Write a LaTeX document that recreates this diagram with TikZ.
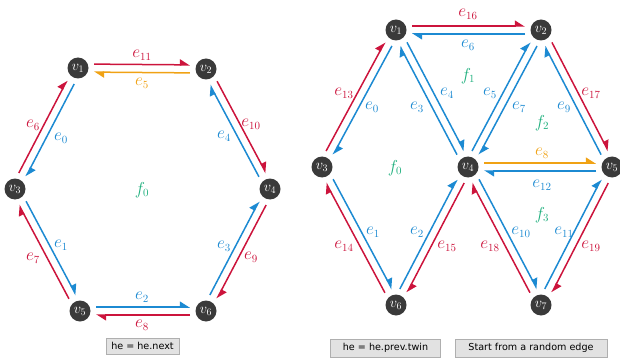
\documentclass[tikz,border=0pt]{standalone}
\usepackage{fontspec}
\newfontfamily\btnfont{DejaVu Sans}
\usetikzlibrary{arrows.meta,calc}
\definecolor{hred}{RGB}{204,20,60}
\definecolor{hblue}{RGB}{28,138,210}
\definecolor{horange}{RGB}{240,162,20}
\definecolor{hgreen}{RGB}{30,175,125}
\definecolor{vgray}{RGB}{58,58,58}
\definecolor{btnfill}{RGB}{226,226,226}
\definecolor{btnborder}{RGB}{175,175,175}
\tikzset{
 vert/.style={circle,fill=vgray,text=white,minimum size=21pt,inner sep=0pt,font=\fontsize{14}{14}\selectfont},
 hedge/.style={line width=1.5pt,-{Triangle[left,length=9pt,width=11pt]}},
 lab/.style={font=\fontsize{16}{16}\selectfont,inner sep=0pt},
 flab/.style={font=\fontsize{16}{16}\selectfont,inner sep=0pt,text=hgreen},
 btn/.style={draw=btnborder,fill=btnfill,font=\btnfont\fontsize{9.6}{10}\selectfont,inner sep=0pt,minimum height=16pt}
}
\newcommand\halfedge[3][]{\draw[hedge,#1] ($(#2)!16pt!(#3)!4pt!90:(#3)$) -- ($(#3)!16pt!(#2)!4pt!-90:(#2)$);}
\begin{document}
\begin{tikzpicture}[x=1pt,y=-1pt]
\useasboundingbox (0,0) rectangle (620,358);
\clip (0,0) rectangle (620,358);
% ---------- left graph ----------
\node[vert] (a1) at (78,68) {$v_1$};
\node[vert] (a2) at (206,69) {$v_2$};
\node[vert] (a3) at (15,189) {$v_3$};
\node[vert] (a4) at (270,189) {$v_4$};
\node[vert] (a5) at (80,311) {$v_5$};
\node[vert] (a6) at (206,311) {$v_6$};
\halfedge[hred]{a1}{a2}
\halfedge[horange]{a2}{a1}
\halfedge[hred]{a3}{a1}
\halfedge[hblue]{a1}{a3}
\halfedge[hred]{a2}{a4}
\halfedge[hblue]{a4}{a2}
\halfedge[hblue]{a3}{a5}
\halfedge[hred]{a5}{a3}
\halfedge[hblue]{a5}{a6}
\halfedge[hred]{a6}{a5}
\halfedge[hblue]{a6}{a4}
\halfedge[hred]{a4}{a6}
\node[lab,text=hred] (la11) at (142,55) {$e_{11}$};
\node[lab,text=horange] (la5) at (142,83) {$e_{5}$};
\node[lab,text=hred] (la6) at (33,125) {$e_{6}$};
\node[lab,text=hblue] (la0) at (61,138) {$e_{0}$};
\node[lab,text=hred] (la10) at (251,124) {$e_{10}$};
\node[lab,text=hblue] (la4) at (224,136) {$e_{4}$};
\node[lab,text=hblue] (la1) at (61,245) {$e_{1}$};
\node[lab,text=hred] (la7) at (33,258) {$e_{7}$};
\node[lab,text=hblue] (la3) at (224,246) {$e_{3}$};
\node[lab,text=hred] (la9) at (251,257) {$e_{9}$};
\node[lab,text=hblue] (la2) at (142,297) {$e_{2}$};
\node[lab,text=hred] (la8) at (142,325) {$e_{8}$};
\node[flab] (lf0) at (142,190) {$f_0$};
\node[btn,minimum width=73pt] (b1) at (142.5,346) {he = he.next};
% ---------- right graph ----------
\node[vert] (b1v) at (396,30) {$v_1$};
\node[vert] (b2v) at (541,30) {$v_2$};
\node[vert] (b3v) at (322,167) {$v_3$};
\node[vert] (b4v) at (468,167) {$v_4$};
\node[vert] (b5v) at (612,167) {$v_5$};
\node[vert] (b6v) at (396,305) {$v_6$};
\node[vert] (b7v) at (541,305) {$v_7$};
\halfedge[hred]{b1v}{b2v}
\halfedge[hblue]{b2v}{b1v}
\halfedge[hred]{b3v}{b1v}
\halfedge[hblue]{b1v}{b3v}
\halfedge[hblue]{b4v}{b1v}
\halfedge[hblue]{b1v}{b4v}
\halfedge[hblue]{b4v}{b2v}
\halfedge[hblue]{b2v}{b4v}
\halfedge[hblue]{b5v}{b2v}
\halfedge[hred]{b2v}{b5v}
\halfedge[horange]{b4v}{b5v}
\halfedge[hblue]{b5v}{b4v}
\halfedge[hblue]{b3v}{b6v}
\halfedge[hred]{b6v}{b3v}
\halfedge[hblue]{b6v}{b4v}
\halfedge[hred]{b4v}{b6v}
\halfedge[hred]{b7v}{b4v}
\halfedge[hblue]{b4v}{b7v}
\halfedge[hblue]{b7v}{b5v}
\halfedge[hred]{b5v}{b7v}
\node[lab,text=hred] (lb16) at (468,14) {$e_{16}$};
\node[lab,text=hblue] (lb6) at (468,45) {$e_{6}$};
\node[lab,text=hred] (lb13) at (344,93) {$e_{13}$};
\node[lab,text=hblue] (lb0) at (372,107) {$e_{0}$};
\node[lab,text=hblue] (lb3) at (417,107) {$e_{3}$};
\node[lab,text=hblue] (lb4) at (447,93) {$e_{4}$};
\node[lab,text=hblue] (lb5) at (490,93) {$e_{5}$};
\node[lab,text=hblue] (lb7) at (519,107) {$e_{7}$};
\node[lab,text=hblue] (lb9) at (564,107) {$e_{9}$};
\node[lab,text=hred] (lb17) at (591,93) {$e_{17}$};
\node[lab,text=horange] (lb8) at (542,153) {$e_{8}$};
\node[lab,text=hblue] (lb12) at (542,185) {$e_{12}$};
\node[lab,text=hblue] (lb1) at (373,232) {$e_{1}$};
\node[lab,text=hred] (lb14) at (344,246) {$e_{14}$};
\node[lab,text=hblue] (lb2) at (417,232) {$e_{2}$};
\node[lab,text=hred] (lb15) at (447,246) {$e_{15}$};
\node[lab,text=hred] (lb18) at (490,246) {$e_{18}$};
\node[lab,text=hblue] (lb10) at (521,232) {$e_{10}$};
\node[lab,text=hblue] (lb11) at (564,232) {$e_{11}$};
\node[lab,text=hred] (lb19) at (591,246) {$e_{19}$};
\node[flab] (lf1) at (468,76) {$f_1$};
\node[flab] (lf2) at (542,123) {$f_2$};
\node[flab] (lf0b) at (395,168) {$f_0$};
\node[flab] (lf3) at (542,215) {$f_3$};
\node[btn,minimum width=110pt,minimum height=18pt] (b2) at (385.5,348) {he = he.prev.twin};
\node[btn,minimum width=152pt,minimum height=18pt] (b3) at (531,348) {Start from a random edge};
\end{tikzpicture}
\end{document}
